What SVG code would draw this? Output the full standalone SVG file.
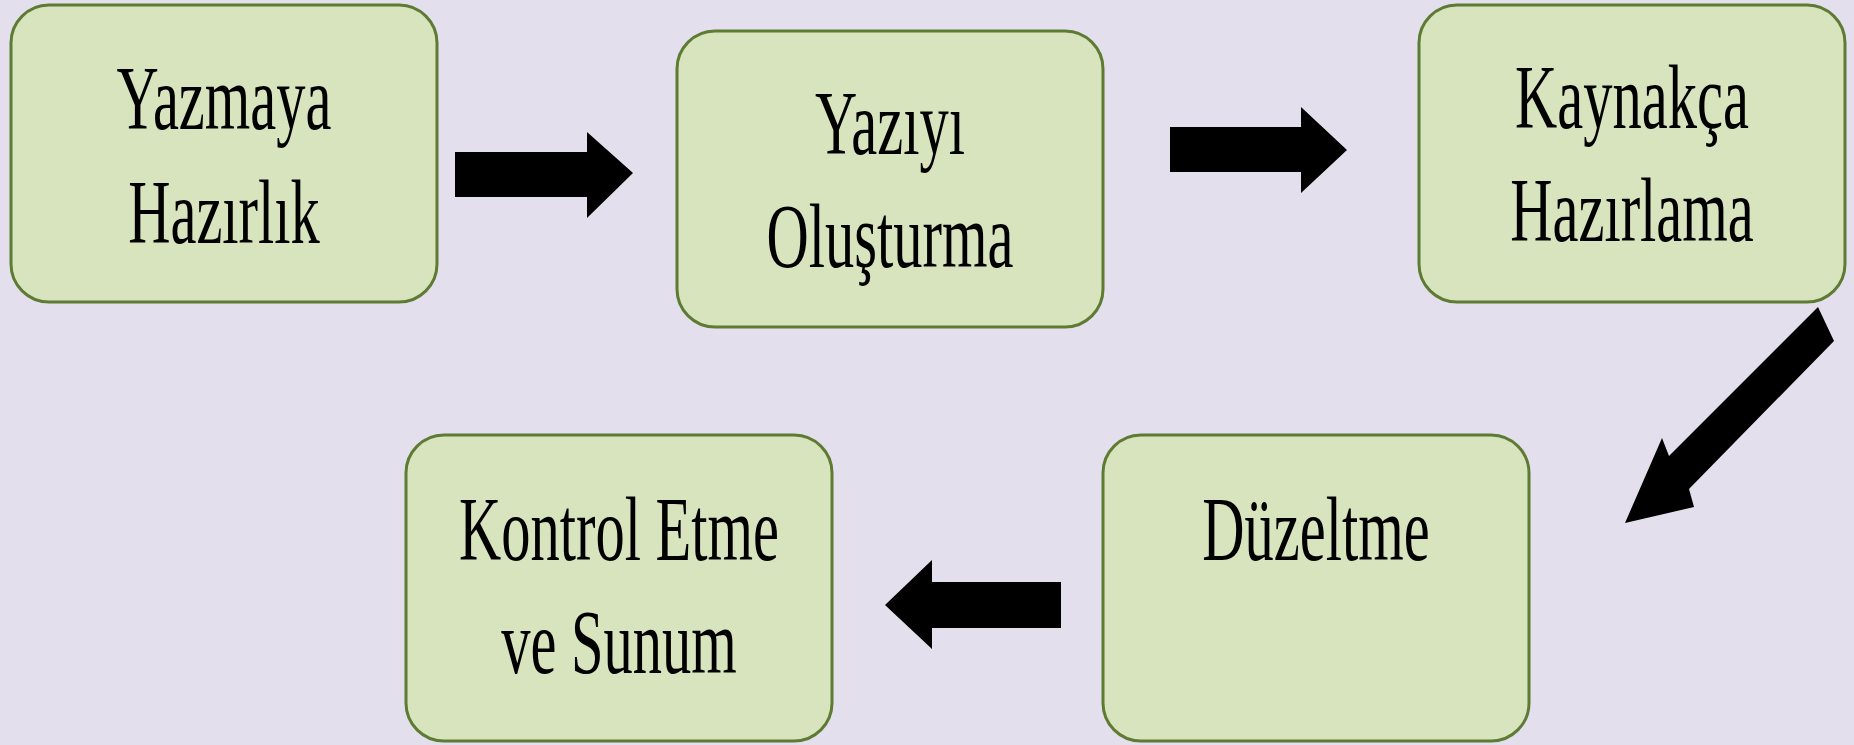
<svg xmlns="http://www.w3.org/2000/svg" width="1854" height="745" viewBox="0 0 1854 745">
<style>
.box{fill:#d7e4bd;stroke:#5e7b33;stroke-width:3}
.lbl{font-family:"Liberation Serif","Times New Roman",serif;font-size:90px;fill:#000;text-anchor:middle}
.arr{fill:#000}
</style>
<rect x="0" y="0" width="1854" height="745" fill="#e4dfec"/>
<g id="n1">
<rect class="box" x="11" y="5" width="426" height="297" rx="38" ry="38"/>
<text class="lbl" transform="translate(224,129) scale(0.65 1)">Yazmaya</text>
<text class="lbl" transform="translate(224,243) scale(0.65 1)">Hazırlık</text>
</g>
<g id="n2">
<rect class="box" x="677" y="31" width="426" height="296" rx="38" ry="38"/>
<text class="lbl" transform="translate(890,154) scale(0.65 1)">Yazıyı</text>
<text class="lbl" transform="translate(890,267) scale(0.65 1)">Oluşturma</text>
</g>
<g id="n3">
<rect class="box" x="1419" y="5" width="426" height="297" rx="38" ry="38"/>
<text class="lbl" transform="translate(1632,128) scale(0.65 1)">Kaynakça</text>
<text class="lbl" transform="translate(1632,241) scale(0.65 1)">Hazırlama</text>
</g>
<g id="n4">
<rect class="box" x="1103" y="435" width="426" height="306" rx="38" ry="38"/>
<text class="lbl" transform="translate(1316,560) scale(0.65 1)">Düzeltme</text>
</g>
<g id="n5">
<rect class="box" x="406" y="435" width="426" height="306" rx="38" ry="38"/>
<text class="lbl" transform="translate(619,560) scale(0.65 1)">Kontrol Etme</text>
<text class="lbl" transform="translate(619,673) scale(0.65 1)">ve Sunum</text>
</g>
<g id="connectors">
<polygon class="arr" points="455,152 587,152 587,132 633,173 587,218 587,197 455,197"/>
<polygon class="arr" points="1170,127 1301,127 1301,107 1347,150 1301,193 1301,172 1170,172"/>
<polygon class="arr" points="1818,307 1669,456 1662,438 1625,523 1694,507 1689,489 1834,341"/>
<polygon class="arr" points="1061,582 932,582 932,560 885,605 932,649 932,628 1061,628"/>
</g>
</svg>
